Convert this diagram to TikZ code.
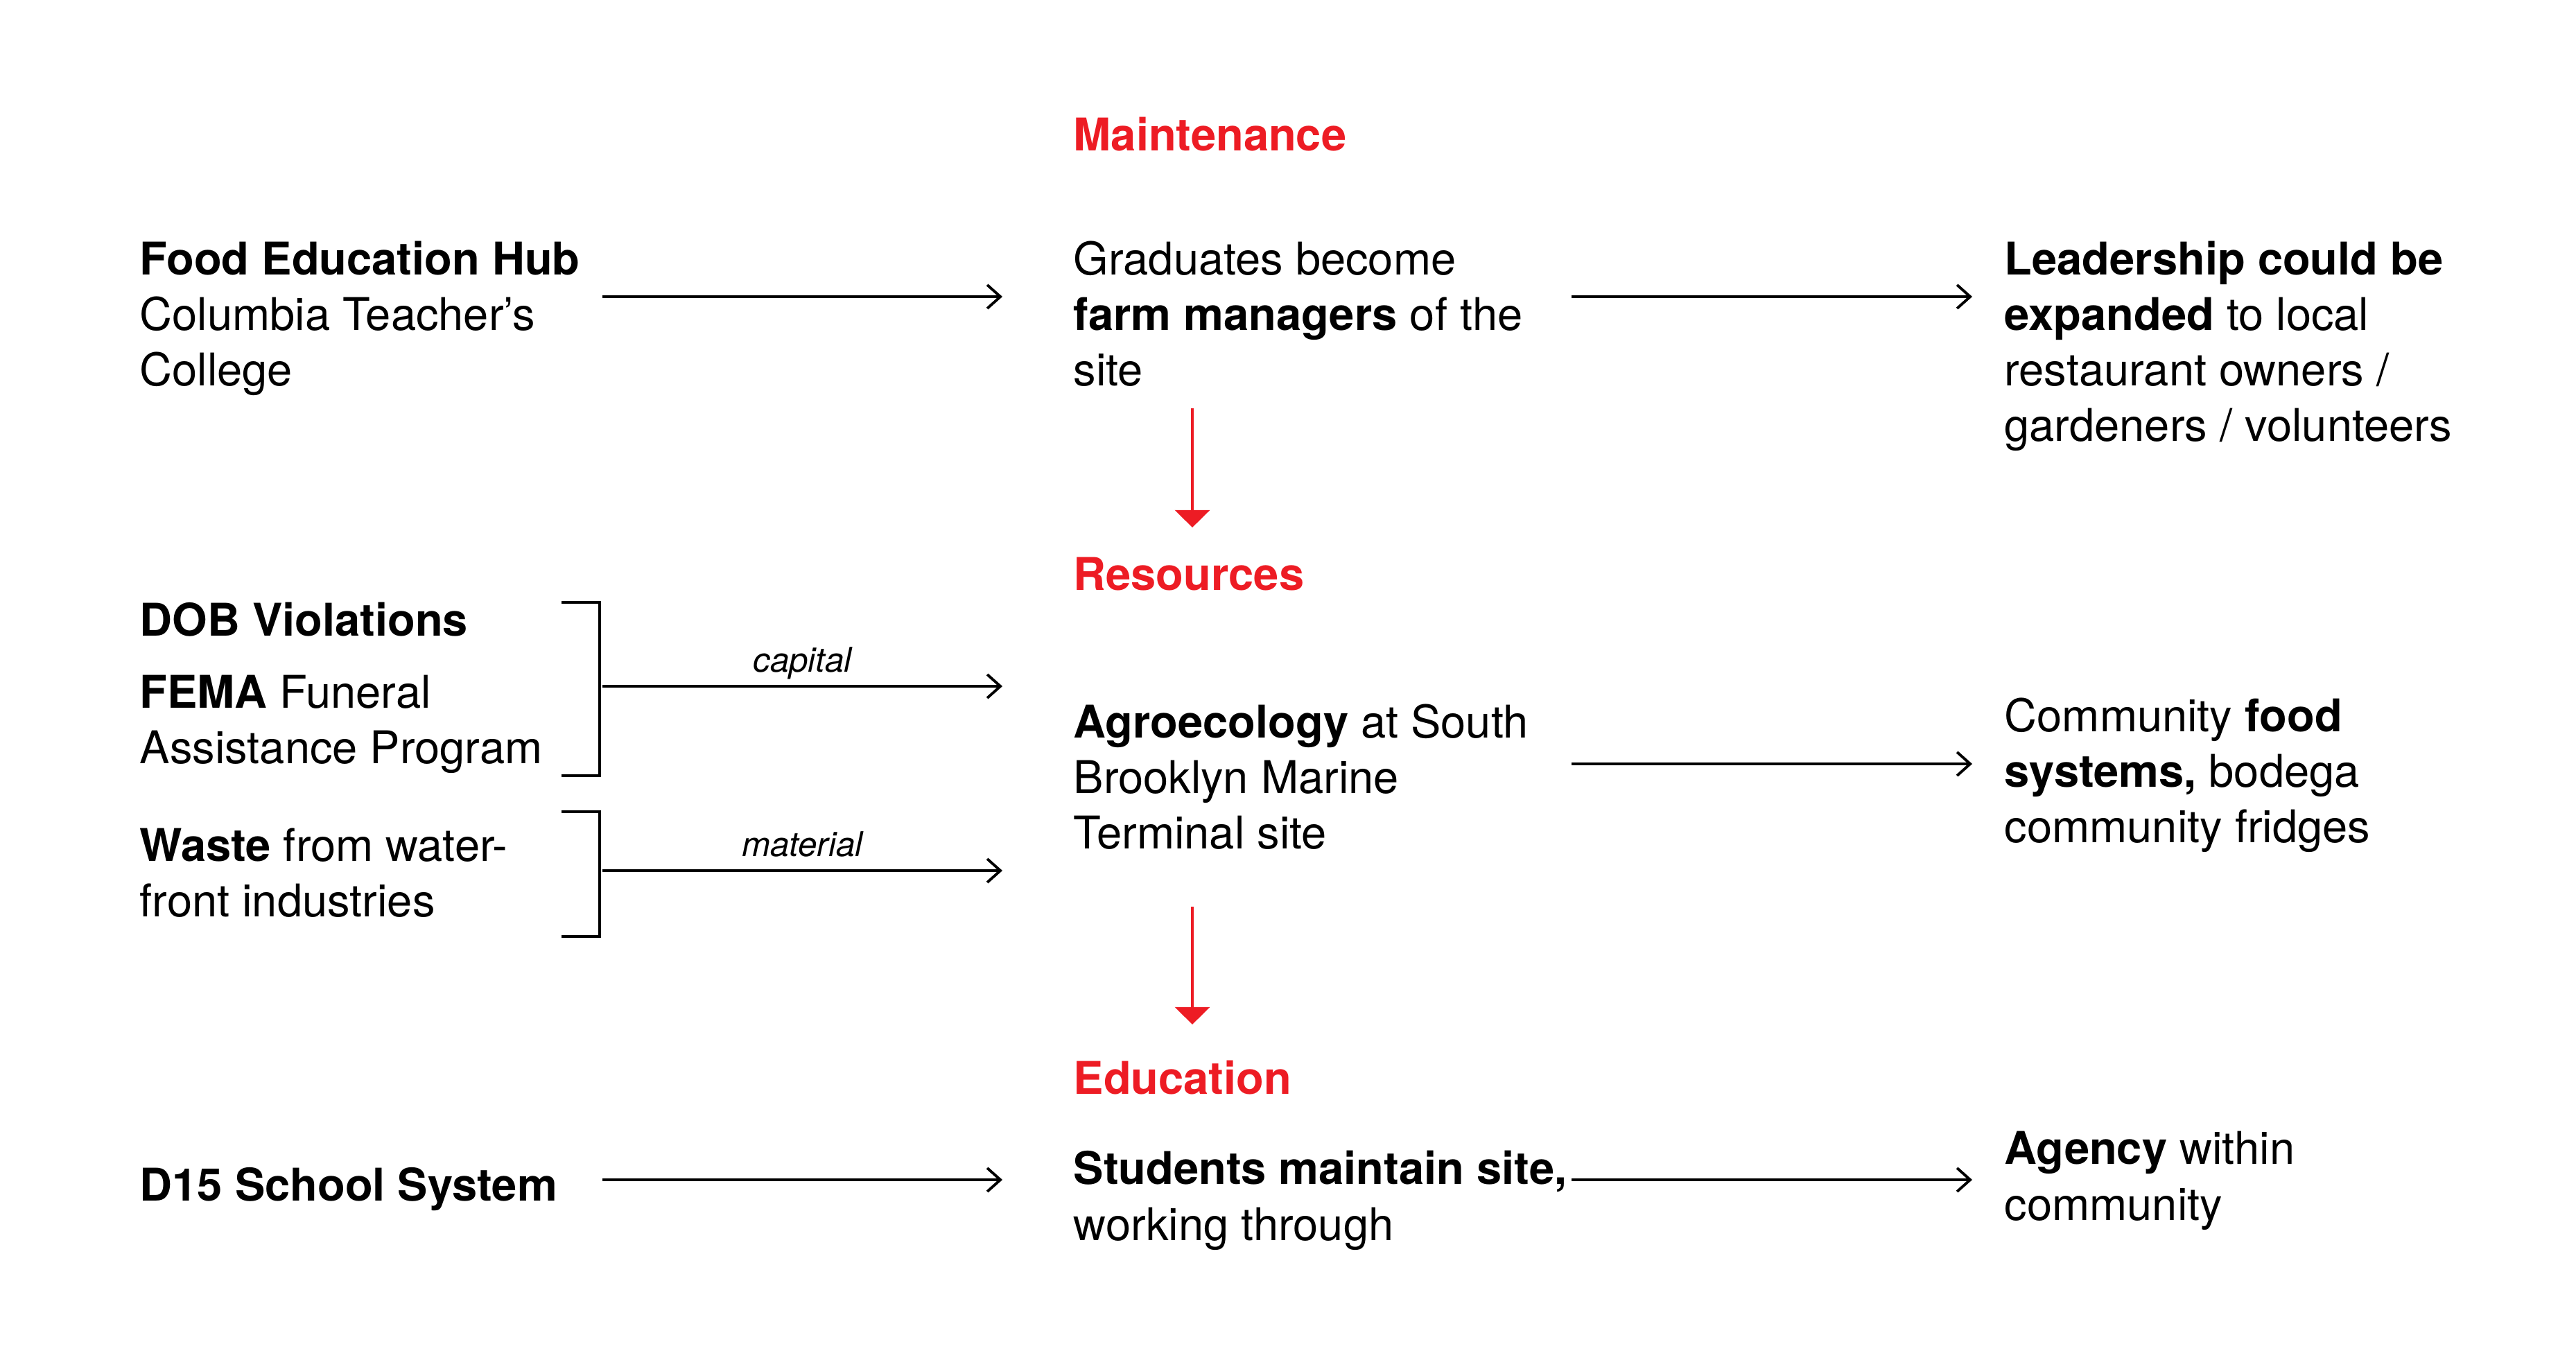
\documentclass[tikz,border=0pt]{standalone}
\usepackage{fontspec}
\setmainfont{TeX Gyre Heros}
\usetikzlibrary
  {
    arrows.meta,   % barb and triangle tips
    positioning,   % place nodes relative to other nodes
  }

\definecolor{alarmred}{HTML}{ED1C24}

\tikzset{
  body/.style={inner sep=0pt, anchor=base west, align=left,
    font=\fontsize{18.5}{22.8}\selectfont},
  heading/.style={body, text=alarmred,
    font=\fontsize{18.5}{22.8}\selectfont\bfseries},
  flow/.style={line width=1.1pt,
    -{Straight Barb[length=0.19cm,width=0.34cm]}},
  drop/.style={alarmred, line width=1pt,
    -{Triangle[length=0.25cm,width=0.5cm]}},
  bracketline/.style={line width=1.3pt},
  flowtag/.style={inner sep=0pt, anchor=base, yshift=0.21cm,
    font=\fontsize{14}{16}\selectfont\itshape},
}

\begin{document}
\begin{tikzpicture}
    \useasboundingbox (0,0) rectangle (37.16,-19.49);

    % columns and rows of the connectors
    \coordinate (c1) at (8.69,0);
    \coordinate (c2) at (14.46,0);
    \coordinate (c3) at (22.67,0);
    \coordinate (c4) at (28.45,0);
    \coordinate (r1) at (0,-4.28);
    \coordinate (rcap) at (0,-9.90);
    \coordinate (r2) at (0,-11.02);
    \coordinate (rmat) at (0,-12.56);
    \coordinate (r3) at (0,-17.02);

    \node[heading] (maint) at (15.48,-2.18) {Maintenance};
    \node[heading] (res) at (15.48,-8.51) {Resources};
    \node[heading] (edu) at (15.48,-15.78) {Education};

    % nodes sit on the baseline of their last line
    \node[body] (hub) at (2.01,-5.565)
      {\textbf{Food Education Hub}\\Columbia Teacher’s\\College};
    \node[body] (grad) at (15.48,-5.565)
      {Graduates become\\\textbf{farm managers} of the\\site};
    \node[body] (lead) at (28.91,-6.368)
      {\textbf{Leadership could be}\\\textbf{expanded} to local\\restaurant owners /\\gardeners / volunteers};

    \node[body] (dob) at (2.01,-9.17) {\textbf{DOB Violations}};
    \node[body] (fema) at (2.01,-11.013)
      {\textbf{FEMA} Funeral\\Assistance Program};
    \node[body] (waste) at (2.01,-13.223)
      {\textbf{Waste} from water-\\front industries};
    \node[body] (agro) at (15.48,-12.245)
      {\textbf{Agroecology} at South\\Brooklyn Marine\\Terminal site};
    \node[body] (comm) at (28.91,-12.155)
      {Community \textbf{food}\\\textbf{systems,} bodega\\community fridges};

    \node[body] (dschool) at (2.01,-17.32) {\textbf{D15 School System}};
    \node[body] (stud) at (15.48,-17.89)
      {\textbf{Students maintain site,}\\working through};
    \node[body] (agency) at (28.91,-17.60)
      {\textbf{Agency} within\\community};

    % brackets round the resource inputs
    \draw[bracketline] (8.10,-8.69) -| (8.65,-11.19) -- (8.10,-11.19);
    \draw[bracketline] (8.10,-11.71) -| (8.65,-13.51) -- (8.10,-13.51);

    \draw[flow] (c1 |- r1) -- (c2 |- r1);
    \draw[flow] (c3 |- r1) -- (c4 |- r1);
    \draw[flow] (c1 |- rcap) -- node[flowtag] (captag) {capital} (c2 |- rcap);
    \draw[flow] (c1 |- rmat) -- node[flowtag] (mattag) {material} (c2 |- rmat);
    \draw[flow] (c3 |- r2) -- (c4 |- r2);
    \draw[flow] (c1 |- r3) -- (c2 |- r3);
    \draw[flow] (c3 |- r3) -- (c4 |- r3);

    \draw[drop] ([xshift=1.72cm,yshift=-0.31cm]grad.south west)
      -- ([xshift=1.72cm,yshift=0.42cm]res.north west);
    \draw[drop] ([xshift=1.72cm,yshift=-0.82cm]agro.south west)
      -- ([xshift=1.72cm,yshift=0.51cm]edu.north west);
\end{tikzpicture}
\end{document}
